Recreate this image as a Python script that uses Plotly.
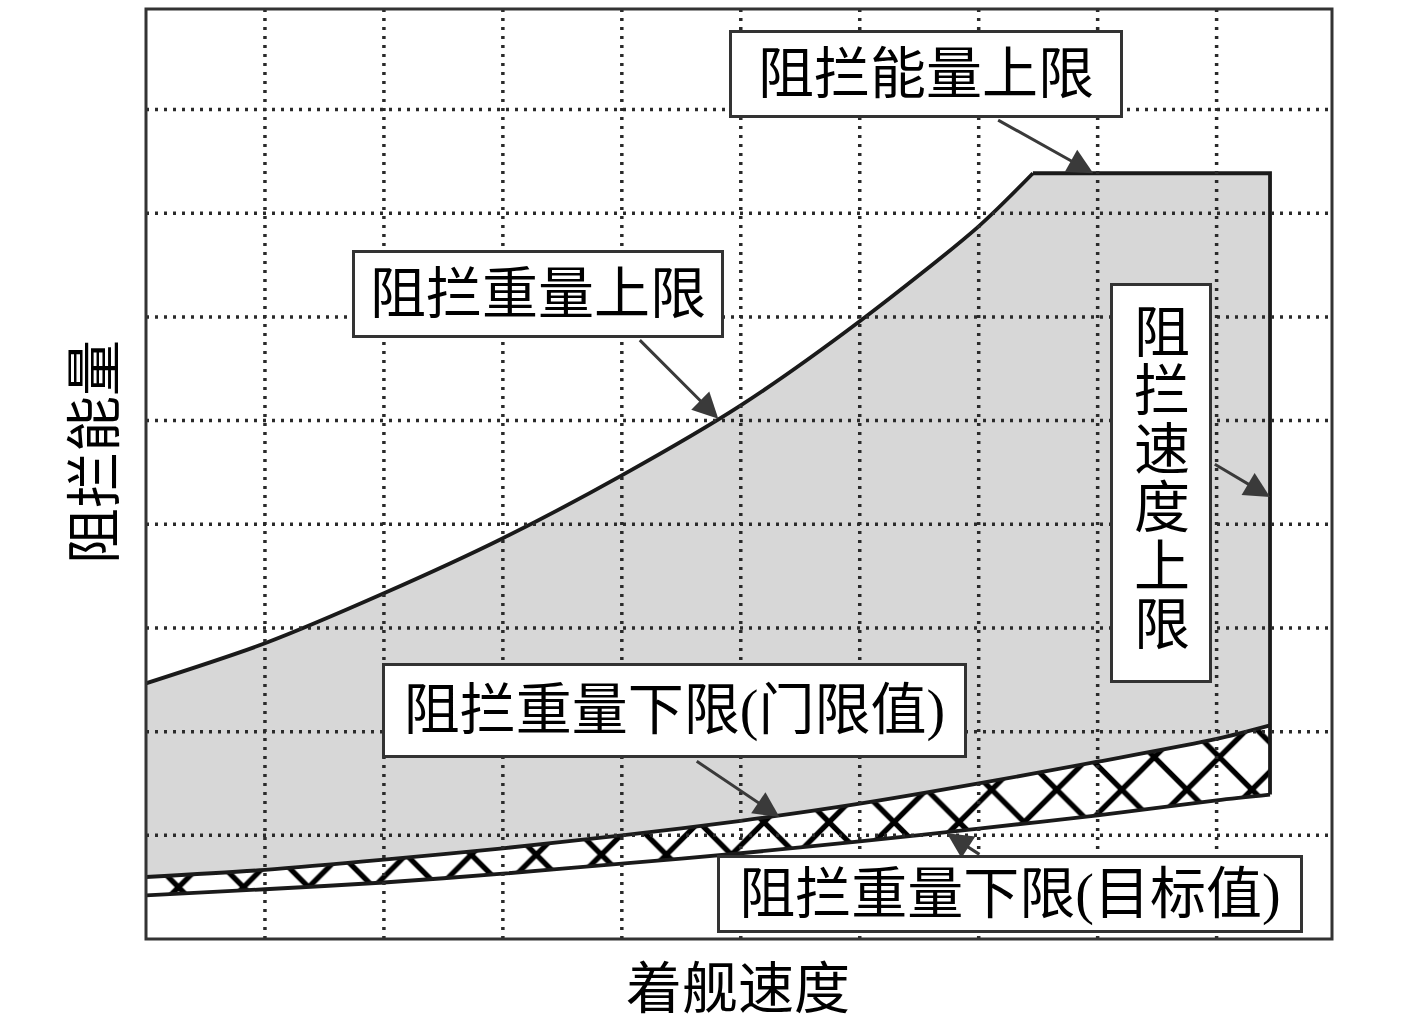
import plotly.graph_objects as go

# ---- data (axis units: x 0..10 grid, y 0..9 grid) ----
x_upper = [0, 1, 2, 3, 4, 5, 6, 7, 7.456, 9.449]
y_upper = [2.466, 2.852, 3.334, 3.865, 4.472, 5.147, 5.958, 6.874, 7.386, 7.386]
knee = 8  # index of the point where the energy upper limit (flat top) starts

x_lower = [0, 1, 2, 3, 4, 5, 6, 7, 8, 9, 9.449]
y_threshold = [0.598, 0.667, 0.765, 0.875, 1.0, 1.14, 1.305, 1.50, 1.71, 1.93, 2.061]
y_target = [0.42, 0.48, 0.545, 0.63, 0.727, 0.827, 0.942, 1.065, 1.193, 1.338, 1.393]

grid_x = [1, 2, 3, 4, 5, 6, 7, 8, 9]
grid_y = [1, 2, 3, 4, 5, 6, 7, 8]

x_title = "着舰速度"
y_title = "阻拦能量"
label_energy = "阻拦能量上限"
label_weight_up = "阻拦重量上限"
label_speed = "阻拦速度上限"
label_threshold = "阻拦重量下限(门限值)"
label_target = "阻拦重量下限(目标值)"

# ---- layout constants (body margin removed by post_script) ----
OFF = 0
W, H = 1417, 1027
L, R, T, B = 146, 85, 9, 88
PW, PH = W - L - R, H - T - B
XR = [0, 9.97]
YR = [0, 8.97]
FONT = "Liberation Serif, Noto Sans CJK SC, serif"
LINE = "#1a1a1a"
ARROW = "#3a3a3a"
LW = 3.8


def paper(px, py):
    """page pixel -> paper coords"""
    return (px - OFF - L) / PW, (H - B - (py - OFF)) / PH


fig = go.Figure()
nohover = dict(showlegend=False, hoverinfo="skip")

# fills (edges drawn separately as smooth lines)
fig.add_trace(go.Scatter(x=x_lower, y=y_target, mode="lines",
                         line=dict(width=0, color="rgba(0,0,0,0)"), **nohover))
fig.add_trace(go.Scatter(x=x_lower, y=y_threshold, mode="lines", fill="tonexty",
                         fillcolor="white",
                         fillpattern=dict(shape="x", fgcolor="#000000", bgcolor="white",
                                          fgopacity=1, fillmode="replace",
                                          size=46, solidity=0.22),
                         line=dict(width=0, color="rgba(0,0,0,0)"), **nohover))
fig.add_trace(go.Scatter(x=x_upper, y=y_upper, mode="lines", fill="tonexty",
                         fillcolor="#d7d7d7",
                         line=dict(width=0, color="rgba(0,0,0,0)"), **nohover))

# boundary lines
fig.add_trace(go.Scatter(x=x_lower, y=y_target, mode="lines",
                         line=dict(color=LINE, width=LW, shape="spline", smoothing=0.8),
                         **nohover))
fig.add_trace(go.Scatter(x=x_lower, y=y_threshold, mode="lines",
                         line=dict(color=LINE, width=LW, shape="spline", smoothing=0.8),
                         **nohover))
fig.add_trace(go.Scatter(x=x_upper[:knee + 1], y=y_upper[:knee + 1], mode="lines",
                         line=dict(color=LINE, width=LW, shape="spline", smoothing=0.8),
                         **nohover))
fig.add_trace(go.Scatter(x=x_upper[knee:] + [x_lower[-1]],
                         y=y_upper[knee:] + [y_target[-1]],
                         mode="lines", line=dict(color=LINE, width=LW), **nohover))

shapes = []
GRID = dict(color="#2a2a2a", width=3.5, dash="3px,6px")
for gx in grid_x:
    shapes.append(dict(type="line", xref="x", yref="paper", x0=gx, x1=gx, y0=0, y1=1,
                       line=GRID, layer="above"))
for gy in grid_y:
    shapes.append(dict(type="line", xref="paper", yref="y", x0=0, x1=1, y0=gy, y1=gy,
                       line=GRID, layer="above"))
shapes.append(dict(type="rect", xref="paper", yref="paper", x0=0, x1=1, y0=0, y1=1,
                   line=dict(color="#333333", width=3), layer="above"))

ann = []


def box(text, cx, cy, bw, bh, size=56):
    px, py = paper(cx, cy)
    ann.append(dict(text=text, xref="paper", yref="paper", x=px, y=py,
                    xanchor="center", yanchor="middle", showarrow=False,
                    width=bw - 6, height=bh - 6, borderpad=0, borderwidth=3,
                    bordercolor="#333333", bgcolor="white",
                    font=dict(family=FONT, size=size, color="black")))


def arrow(x, y, ax, ay):
    ann.append(dict(text="", x=x, y=y, xref="x", yref="y", ax=ax, ay=ay,
                    showarrow=True, arrowhead=2, arrowsize=1.7, arrowwidth=3,
                    arrowcolor=ARROW))


arrow(7.963, y_upper[-1], -96.6, -54)
arrow(4.811, 5.019, -80, -80)
arrow(x_lower[-1], 4.263, -56.7, -33.7)
arrow(5.325, 1.177, -84.2, -56.7)
arrow(6.733, 1.019, 34, 22)

box(label_energy, 926, 74, 394, 88)
box(label_weight_up, 538, 294, 372, 88)
box(label_threshold, 674, 710.5, 585, 95)
box(label_target, 1010, 894, 586, 78)
box(" ", 1161, 483, 102, 400)
for i, ch in enumerate(label_speed):
    px, py = paper(1161.7, 333 + 58.4 * i)
    ann.append(dict(text=ch, xref="paper", yref="paper", x=px, y=py,
                    xanchor="center", yanchor="middle", showarrow=False,
                    font=dict(family=FONT, size=56, color="black")))

# axis titles
px, py = paper(738, 989)
ann.append(dict(text=x_title, xref="paper", yref="paper", x=px, y=py,
                xanchor="center", yanchor="middle", showarrow=False,
                font=dict(family=FONT, size=56, color="black")))
px, py = paper(95, 452)
ann.append(dict(text=y_title, xref="paper", yref="paper", x=px, y=py, textangle=-90,
                xanchor="center", yanchor="middle", showarrow=False,
                font=dict(family=FONT, size=56, color="black")))

fig.update_layout(
    width=W, height=H,
    margin=dict(l=L, r=R, t=T, b=B, pad=0),
    paper_bgcolor="white", plot_bgcolor="white",
    xaxis=dict(range=XR, showgrid=False, zeroline=False, showticklabels=False,
               ticks="", showline=False, fixedrange=True),
    yaxis=dict(range=YR, showgrid=False, zeroline=False, showticklabels=False,
               ticks="", showline=False, fixedrange=True),
    shapes=shapes, annotations=ann,
)

fig.write_html("out.html",
               config={"displayModeBar": False},
               post_script="document.body.style.margin='0';"
                           "document.body.style.overflow='hidden';")
